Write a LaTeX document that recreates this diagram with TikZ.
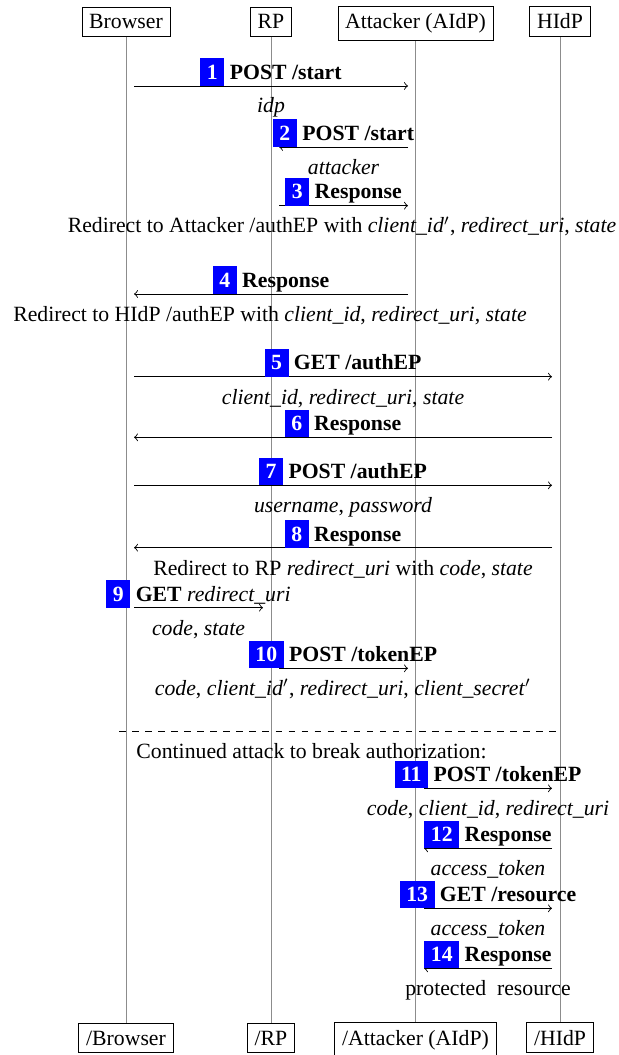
\documentclass[tikz,border=0pt]{standalone}
\usepackage{fontspec}
\setmainfont{Liberation Serif}
\newcommand{\stepno}[1]{\colorbox{blue}{\textcolor{white}{\textbf{#1}}}}
\tikzset{
  actor/.style={draw,anchor=base,inner sep=3.33pt},
  life/.style={gray!90,line width=0.4pt},
  msg/.style={->},
  lbl/.style={anchor=base,inner sep=0pt},
  param/.style={anchor=base,inner sep=0pt,font=\itshape},
}
\begin{document}
\begin{tikzpicture}[x=0.46pt,y=-0.46pt]
  \useasboundingbox (0,0) rectangle (618,1055);
  % actors, top and bottom
  \node[actor] (B) at (126,29) {Browser};
  \node[actor] (RP) at (271,29) {RP};
  \node[actor] (A) at (415.5,29) {Attacker (AIdP)};
  \node[actor] (H) at (560,29) {HIdP};
  \node[actor] (Be) at (126,1045) {/Browser};
  \node[actor] (RPe) at (271,1045) {/RP};
  \node[actor] (Ae) at (415.5,1045) {/Attacker (AIdP)};
  \node[actor] (He) at (560,1045) {/HIdP};
  % lifelines
  \draw[life] (B.south) -- (Be.north);
  \draw[life] (RP.south) -- (RPe.north);
  \draw[life] (A.south) -- (Ae.north);
  \draw[life] (H.south) -- (He.north);

  % 1
  \coordinate (m1s) at (134,86);
  \coordinate (m1e) at (408,86);
  \draw[msg] (m1s) -- (m1e);
  \node[lbl] (l1) at (271,79.3) {\stepno{1} \textbf{POST /start}};
  \node[param] (p1) at (271,113) {idp};
  % 2
  \coordinate (m2s) at (408,147);
  \coordinate (m2e) at (279,147);
  \draw[msg] (m2s) -- (m2e);
  \node[lbl] (l2) at (343.5,140.3) {\stepno{2} \textbf{POST /start}};
  \node[param] (p2) at (343.5,175) {attacker};
  % 3
  \coordinate (m3s) at (279,205.7);
  \coordinate (m3e) at (408,205.7);
  \draw[msg] (m3s) -- (m3e);
  \node[lbl] (l3) at (343.5,199) {\stepno{3} \textbf{Response}};
  \node[lbl] (p3) at (342,233) {Redirect to Attacker /authEP with \textit{client\_id}$'$, \textit{redirect\_uri}, \textit{state}};
  % 4
  \coordinate (m4s) at (408,294);
  \coordinate (m4e) at (134,294);
  \draw[msg] (m4s) -- (m4e);
  \node[lbl] (l4) at (271,287.3) {\stepno{4} \textbf{Response}};
  \node[lbl] (p4) at (270,321.5) {Redirect to HIdP /authEP with \textit{client\_id}, \textit{redirect\_uri}, \textit{state}};
  % 5
  \coordinate (m5s) at (134,376.7);
  \coordinate (m5e) at (552,376.7);
  \draw[msg] (m5s) -- (m5e);
  \node[lbl] (l5) at (343,370) {\stepno{5} \textbf{GET /authEP}};
  \node[lbl] (p5) at (343,404) {\textit{client\_id}, \textit{redirect\_uri}, \textit{state}};
  % 6
  \coordinate (m6s) at (552,437.3);
  \coordinate (m6e) at (134,437.3);
  \draw[msg] (m6s) -- (m6e);
  \node[lbl] (l6) at (343,430.6) {\stepno{6} \textbf{Response}};
  % 7
  \coordinate (m7s) at (134,485.3);
  \coordinate (m7e) at (552,485.3);
  \draw[msg] (m7s) -- (m7e);
  \node[lbl] (l7) at (343,478.6) {\stepno{7} \textbf{POST /authEP}};
  \node[lbl] (p7) at (343,512) {\textit{username}, \textit{password}};
  % 8
  \coordinate (m8s) at (552,547.7);
  \coordinate (m8e) at (134,547.7);
  \draw[msg] (m8s) -- (m8e);
  \node[lbl] (l8) at (343,541) {\stepno{8} \textbf{Response}};
  \node[lbl] (p8) at (343,575) {Redirect to RP \textit{redirect\_uri} with \textit{code}, \textit{state}};
  % 9
  \coordinate (m9s) at (134,607.7);
  \coordinate (m9e) at (263,607.7);
  \draw[msg] (m9s) -- (m9e);
  \node[lbl] (l9) at (198.5,601) {\stepno{9} \textbf{GET} \textit{redirect\_uri}};
  \node[lbl] (p9) at (198.5,635) {\textit{code}, \textit{state}};
  % 10
  \coordinate (m10s) at (279,668.3);
  \coordinate (m10e) at (408,668.3);
  \draw[msg] (m10s) -- (m10e);
  \node[lbl] (l10) at (343,661.6) {\stepno{10} \textbf{POST /tokenEP}};
  \node[lbl] (p10) at (343,695) {\textit{code}, \textit{client\_id}$'$, \textit{redirect\_uri}, \textit{client\_secret}$'$};

  % second phase
  \coordinate (d1) at (119,731.7);
  \coordinate (d2) at (559.5,731.7);
  \draw[dashed] (d1) -- (d2);
  \node[lbl,anchor=base west] (cont) at (136,758) {Continued attack to break authorization:};
  % 11
  \coordinate (m11s) at (424,788.3);
  \coordinate (m11e) at (552,788.3);
  \draw[msg] (m11s) -- (m11e);
  \node[lbl] (l11) at (488,781.6) {\stepno{11} \textbf{POST /tokenEP}};
  \node[lbl] (p11) at (488,815) {\textit{code}, \textit{client\_id}, \textit{redirect\_uri}};
  % 12
  \coordinate (m12s) at (552,848.3);
  \coordinate (m12e) at (424,848.3);
  \draw[msg] (m12s) -- (m12e);
  \node[lbl] (l12) at (488,841.6) {\stepno{12} \textbf{Response}};
  \node[param] (p12) at (488,875) {access\_token};
  % 13
  \coordinate (m13s) at (424,908.3);
  \coordinate (m13e) at (552,908.3);
  \draw[msg] (m13s) -- (m13e);
  \node[lbl] (l13) at (488,901.6) {\stepno{13} \textbf{GET /resource}};
  \node[param] (p13) at (488,935) {access\_token};
  % 14
  \coordinate (m14s) at (552,968.3);
  \coordinate (m14e) at (424,968.3);
  \draw[msg] (m14s) -- (m14e);
  \node[lbl] (l14) at (488,961.6) {\stepno{14} \textbf{Response}};
  \node[lbl] (p14) at (488,995) {protected\enspace resource};
\end{tikzpicture}
\end{document}
